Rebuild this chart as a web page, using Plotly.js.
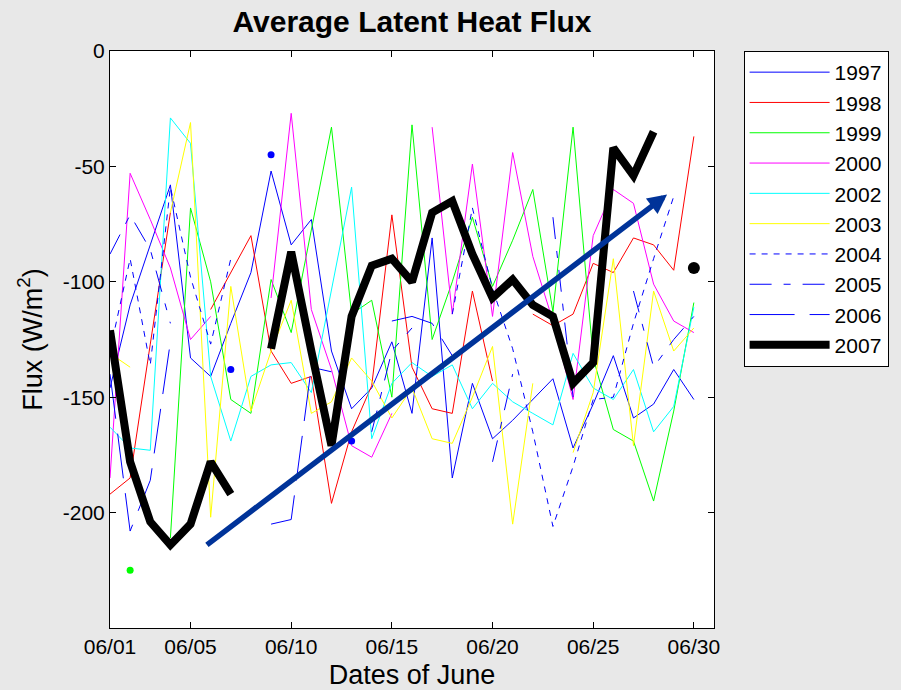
<!DOCTYPE html>
<html>
<head>
<meta charset="utf-8">
<script src="https://cdn.plot.ly/plotly-3.0.1.min.js"></script>
<style>
  html, body { margin: 0; padding: 0; background: #e8e8e8; }
  #chart { width: 901px; height: 690px; }
</style>
</head>
<body>
<div id="chart"></div>
<script>
// Day of June for every sample
const days = [1, 2, 3, 4, 5, 6, 7, 8, 9, 10, 11, 12, 13, 14, 15, 16, 17, 18, 19, 20, 21, 22, 23, 24, 25, 26, 27, 28, 29, 30];

// Daily mean latent heat flux (W/m2) per year; null = missing day
const flux1997 = [-146, -110, -84, -58, -133, -141, -118, -96, -52, -84, -73, -130, -155, -146, -126, -157, -81, -185, -144, -168, -160, -151, -142, -172, -153, -132, -159, -153, -138, -151];
const flux1998 = [-192, -185, -127, -70, null, -112, -96, -80, -130, -144, -141, -196, -165, -145, -71, -137, -155, -157, -104, -143, null, -114, -119, -114, -92, -96, -81, -84, -95, -37];
const flux1999 = [null, -225, null, -211, -68, -100, -151, -157, -99, -122, -78, -33, -114, -108, -150, -32, -125, -100, -72, -102, -82, -60, -113, -33, -133, -164, -169, -195, -156, -109];
const flux2000 = [-185, -53, -73, -94, -125, -115, null, null, -107, -27, -112, -138, -171, -176, -157, null, -33, -114, -49, -115, -44, -89, -117, -151, -80, -60, -66, -101, -117, -122];
const flux2002 = [-163, -172, -173, -29, -40, -141, -169, -141, -136, -135, -148, -104, -59, -168, -144, -135, -141, -136, -155, -144, -152, -157, -162, -131, -146, -151, -138, -165, -154, -111];
const flux2003 = [-131, -137, null, -70, -31, -202, -102, -156, -130, -108, -157, -152, -133, -143, -159, -146, -168, -170, -150, -128, -205, -144, null, -174, -148, -90, -171, -104, -130, -120];
const flux2004 = [-130, -90, -136, -59, -98, -127, -90, null, -45, null, null, null, -169, null, null, null, null, -114, -68, -103, -129, -165, -206, -180, -151, -150, -118, -90, -63, null];
const flux2005 = [-88, -71, -86, -118, null, null, -138, null, null, null, null, null, null, -165, -130, -120, null, null, null, -178, -140, null, -72, -150, null, null, -104, -137, -125, -115];
const flux2006 = [-140, -208, -186, -126, null, null, null, null, -205, -203, -137, -139, null, null, -117, -115, -118, -132, null, null, null, null, null, null, null, null, null, null, null, null];
const flux2007 = [-121, -178, -204, -214, -205, -178, -192, null, -129, -87, -130, -171, -115, -93, -90, -100, -70, -65, -88, -107, -99, -110, -115, -144, -135, -42, -54, -35, null, -94];

// Trend arrow: [day, flux] of tail and tip
const trendFrom = [5.74, -214.5];
const trendTo = [28.67, -62.2];

// Axis ticks
const xTickDays = [1, 5, 10, 15, 20, 25, 30];
const xTickLabels = ['06/01', '06/05', '06/10', '06/15', '06/20', '06/25', '06/30'];
const yTickValues = [-200, -150, -100, -50, 0];

const series = [
  { name: '1997', values: flux1997, color: '#0000ff', width: 1, dash: 'solid' },
  { name: '1998', values: flux1998, color: '#ff0000', width: 1, dash: 'solid' },
  { name: '1999', values: flux1999, color: '#00ff00', width: 1, dash: 'solid' },
  { name: '2000', values: flux2000, color: '#ff00ff', width: 1, dash: 'solid' },
  { name: '2002', values: flux2002, color: '#00ffff', width: 1, dash: 'solid' },
  { name: '2003', values: flux2003, color: '#ffff00', width: 1, dash: 'solid' },
  { name: '2004', values: flux2004, color: '#0000ff', width: 1, dash: '6px,6px' },
  { name: '2005', values: flux2005, color: '#0000ff', width: 1, dash: '22px,12px,7px,12px' },
  { name: '2006', values: flux2006, color: '#0000ff', width: 1, dash: '45px,15px' },
  { name: '2007', values: flux2007, color: '#000000', width: 8, dash: 'solid' }
];

const FONT = 'Liberation Sans, Arial, Helvetica, sans-serif';
const traces = [];

series.forEach(function (s) {
  traces.push({
    type: 'scatter', mode: 'lines', name: s.name,
    x: days, y: s.values,
    line: { color: s.color, width: s.width, dash: s.dash },
    legendgroup: s.name,
    hoverinfo: 'skip'
  });
});

// Days with no neighbouring sample cannot form a segment: show them as dots
series.forEach(function (s) {
  const xs = [], ys = [];
  s.values.forEach(function (v, i) {
    if (v === null) return;
    const prev = i > 0 ? s.values[i - 1] : null;
    const next = i < s.values.length - 1 ? s.values[i + 1] : null;
    if (prev === null && next === null) { xs.push(days[i]); ys.push(v); }
  });
  if (xs.length) {
    traces.push({
      type: 'scatter', mode: 'markers', x: xs, y: ys, showlegend: false,
      marker: { color: s.color, size: s.width > 2 ? 12 : 7, line: { width: 0 } },
      hoverinfo: 'skip'
    });
  }
});

const axisCommon = {
  showline: true, linecolor: '#000000', linewidth: 1,
  mirror: 'ticks', ticks: 'inside', ticklen: 6, tickwidth: 1, tickcolor: '#000000',
  showgrid: false, zeroline: false,
  tickfont: { family: FONT, size: 21, color: '#000000' }
};

const layout = {
  width: 901, height: 690,
  paper_bgcolor: '#e8e8e8', plot_bgcolor: '#ffffff',
  margin: { l: 110, r: 184, t: 51, b: 62 },
  showlegend: true,
  title: {
    text: '<b>Average Latent Heat Flux</b>',
    font: { family: FONT, size: 30, color: '#000000' },
    x: 0.5, xref: 'paper', xanchor: 'center',
    y: 1 - 21 / 690, yref: 'container', yanchor: 'middle'
  },
  xaxis: Object.assign({}, axisCommon, {
    range: [1, 31],
    tickmode: 'array', tickvals: xTickDays, ticktext: xTickLabels,
    title: { text: 'Dates of June', font: { family: FONT, size: 27, color: '#000000' }, standoff: 19 }
  }),
  yaxis: Object.assign({}, axisCommon, {
    range: [-250, 0],
    tickmode: 'array', tickvals: yTickValues, ticktext: yTickValues.map(String),
    title: { text: 'Flux (W/m<sup>2</sup>)', font: { family: FONT, size: 27, color: '#000000' }, standoff: 12 }
  }),
  legend: {
    x: 1.049, xanchor: 'left', xref: 'paper',
    y: 1.0, yanchor: 'top', yref: 'paper',
    bgcolor: '#ffffff', bordercolor: '#000000', borderwidth: 1,
    font: { family: FONT, size: 21, color: '#000000' },
    tracegroupgap: 6, itemwidth: 80, traceorder: 'normal'
  },
  annotations: [{
    x: trendTo[0], y: trendTo[1], ax: trendFrom[0], ay: trendFrom[1],
    xref: 'x', yref: 'y', axref: 'x', ayref: 'y',
    text: '', showarrow: true, arrowhead: 2, arrowsize: 0.7,
    arrowwidth: 5.5, arrowcolor: '#003399', standoff: 0
  }]
};

Plotly.newPlot('chart', traces, layout, { displayModeBar: false, staticPlot: true });
</script>
</body>
</html>
